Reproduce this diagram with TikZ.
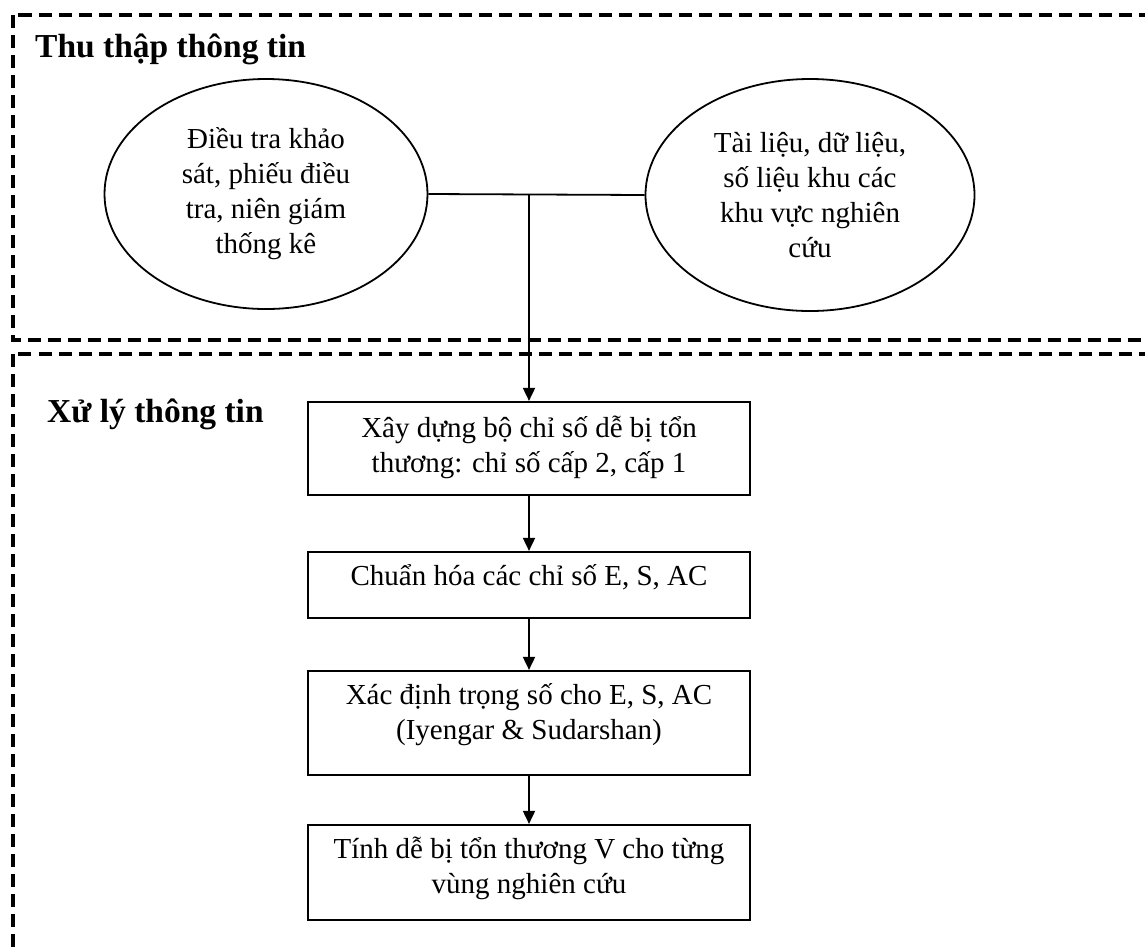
\documentclass[tikz,border=0pt]{standalone}
\usepackage{fontspec}
\setmainfont{Liberation Serif}
\usetikzlibrary{shapes.geometric,arrows.meta}

\tikzset{
  frame/.style={draw=black, line width=4pt, dash pattern=on 13pt off 7pt},
  source/.style={ellipse, draw=black, line width=1.8pt, inner sep=0pt,
    align=center, font=\fontsize{29}{35}\selectfont},
  stepbox/.style={rectangle, draw=black, line width=2.2pt, inner sep=0pt,
    minimum width=442pt},
  steptext/.style={align=center, inner sep=0pt, font=\fontsize{29}{35}\selectfont},
  heading/.style={anchor=base west, inner sep=0pt, font=\fontsize{33.5}{40}\selectfont\bfseries},
  link/.style={draw=black, line width=1.8pt},
  flow/.style={link, -{Triangle[width=12pt,length=13pt]}}
}

\begin{document}
\begin{tikzpicture}[x=1pt, y=-1pt]
  \useasboundingbox (0,0) rectangle (1145,946);
  \clip (0,0) rectangle (1145,946);
  \fill[white] (0,0) rectangle (1145,946);

  % two dashed panels
  \draw[frame] (12.5,15) rectangle (1147,340);
  \draw[frame] (12.5,354) rectangle (1147,949);

  % panel headings
  \node[heading] (h1) at (35,57) {Thu thập thông tin};
  \node[heading] (h2) at (47,422) {Xử lý thông tin};

  % data sources
  \node[source, minimum width=323pt, minimum height=230pt] (e1) at (266,194)
    {Điều tra khảo\\sát, phiếu điều\\tra, niên giám\\thống kê};
  \node[source, minimum width=329pt, minimum height=232pt] (e2) at (810,195)
    {Tài liệu, dữ liệu,\\số liệu khu các\\khu vực nghiên\\cứu};

  % processing steps
  \node[stepbox, minimum height=93pt]  (b1) at (529,448.5) {};
  \node[stepbox, minimum height=66pt]  (b2) at (529,585) {};
  \node[stepbox, minimum height=104pt] (b3) at (529,723) {};
  \node[stepbox, minimum height=95pt]  (b4) at (529,872.5) {};

  \node[steptext] (t1) at (529,447) {Xây dựng bộ chỉ số dễ bị tổn\\thương: chỉ số cấp 2, cấp 1};
  \node[steptext] (t2) at (529,577) {Chuẩn hóa các chỉ số E, S, AC};
  \node[steptext] (t3) at (529,715) {Xác định trọng số cho E, S, AC\\(Iyengar \& Sudarshan)};
  \node[steptext] (t4) at (529,868) {Tính dễ bị tổn thương V cho từng\\vùng nghiên cứu};

  % connectors
  \coordinate (j) at (529,194);
  \draw[link] (e1.east) -- (e2.west);
  \draw[flow] (j) -- (b1.north);
  \draw[flow] (b1.south) -- (b2.north);
  \draw[flow] (b2.south) -- (b3.north);
  \draw[flow] (b3.south) -- (b4.north);
\end{tikzpicture}
\end{document}
